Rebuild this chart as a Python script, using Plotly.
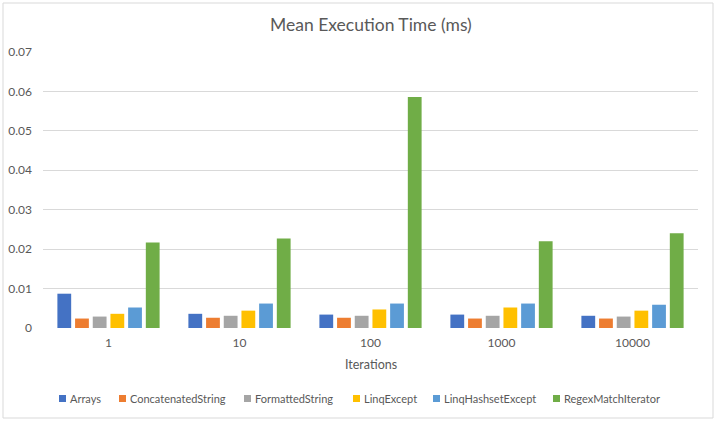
import plotly.graph_objects as go

categories = ["1", "10", "100", "1000", "10000"]
series_names = ["Arrays", "ConcatenatedString", "FormattedString", "LinqExcept",
                "LinqHashsetExcept", "RegexMatchIterator"]
arrays = [0.0087, 0.0036, 0.0034, 0.0034, 0.0031]
concatenated_string = [0.0024, 0.0026, 0.0026, 0.0024, 0.0024]
formatted_string = [0.0029, 0.0031, 0.0031, 0.0031, 0.0029]
linq_except = [0.0036, 0.0044, 0.0047, 0.0052, 0.0044]
linq_hashset_except = [0.0052, 0.0062, 0.0062, 0.0062, 0.0059]
regex_match_iterator = [0.0217, 0.0227, 0.0586, 0.0220, 0.0240]
y_ticks = [0, 0.01, 0.02, 0.03, 0.04, 0.05, 0.06, 0.07]
y_tick_labels = ["0", "0.01", "0.02", "0.03", "0.04", "0.05", "0.06", "0.07"]

series_values = [arrays, concatenated_string, formatted_string, linq_except,
                 linq_hashset_except, regex_match_iterator]
colors = ["#4472C4", "#ED7D31", "#A5A5A5", "#FFC000", "#5B9BD5", "#70AD47"]

FONT = "Lato, 'Open Sans', sans-serif"
GREY = "#595959"

fig = go.Figure()
for name, vals, col in zip(series_names, series_values, colors):
    fig.add_trace(go.Bar(x=categories, y=vals, name=name, marker_color=col,
                         marker_line_width=0, showlegend=False))

# body margin removed via post_script, so figure pixels == window pixels
W, H = 716, 421
PLOT_L, PLOT_R, PLOT_T, PLOT_B = 43, 698, 52, 328  # window pixels
L = PLOT_L
T = PLOT_T
R = W - PLOT_R
B = H - PLOT_B
pw = PLOT_R - PLOT_L
ph = PLOT_B - PLOT_T

def px_x(p):
    return (p - PLOT_L) / pw

def px_y(p):
    return (PLOT_B - p) / ph

# manual legend layout (pixel positions of the legend squares)
legend_left = [59, 119, 244, 353, 433, 553]
legend_cy = 398.5
sq = 7

shapes = [
    dict(type="rect", xref="paper", yref="paper",
         x0=px_x(3), x1=px_x(713), y0=px_y(418), y1=px_y(3),
         line=dict(color="#D9D9D9", width=1), fillcolor="rgba(0,0,0,0)", layer="below"),
]
annotations = [
    dict(text="Mean Execution Time (ms)", xref="paper", yref="paper",
         x=0.5, y=px_y(24), xanchor="center", yanchor="middle", showarrow=False,
         font=dict(size=17.5, color=GREY, family=FONT)),
    dict(text="Iterations", xref="paper", yref="paper",
         x=0.5, y=px_y(364), xanchor="center", yanchor="middle", showarrow=False,
         font=dict(size=12.5, color=GREY, family=FONT)),
]
for name, col, lx in zip(series_names, colors, legend_left):
    shapes.append(dict(type="rect", xref="paper", yref="paper",
                       x0=px_x(lx), x1=px_x(lx + sq),
                       y0=px_y(legend_cy + sq / 2), y1=px_y(legend_cy - sq / 2),
                       line=dict(width=0), fillcolor=col))
    annotations.append(dict(text=name, xref="paper", yref="paper",
                            x=px_x(lx + sq + 2), y=px_y(legend_cy), xanchor="left",
                            yanchor="middle", showarrow=False,
                            font=dict(size=11, color=GREY, family=FONT)))

fig.update_layout(
    width=W, height=H,
    margin=dict(l=L, r=R, t=T, b=B, autoexpand=False),
    paper_bgcolor="white", plot_bgcolor="white",
    font=dict(family=FONT, color=GREY, size=12),
    barmode="group", bargap=0.19, bargroupgap=0.22,
    showlegend=False,
    xaxis=dict(type="category", showgrid=False, showline=False, zeroline=False,
               ticks="", tickfont=dict(size=12, color=GREY), ticklabelstandoff=6),
    yaxis=dict(range=[0, 0.07], tickvals=y_ticks, ticktext=y_tick_labels,
               showgrid=True, gridcolor="#D9D9D9", gridwidth=1, zeroline=False,
               showline=False, ticks="", tickfont=dict(size=12, color=GREY),
               ticklabelstandoff=10),
    annotations=annotations,
    shapes=shapes,
)

fig.write_html("out.html",
               config={"displayModeBar": False},
               post_script="document.body.style.margin='0';document.body.style.overflow='hidden';")
